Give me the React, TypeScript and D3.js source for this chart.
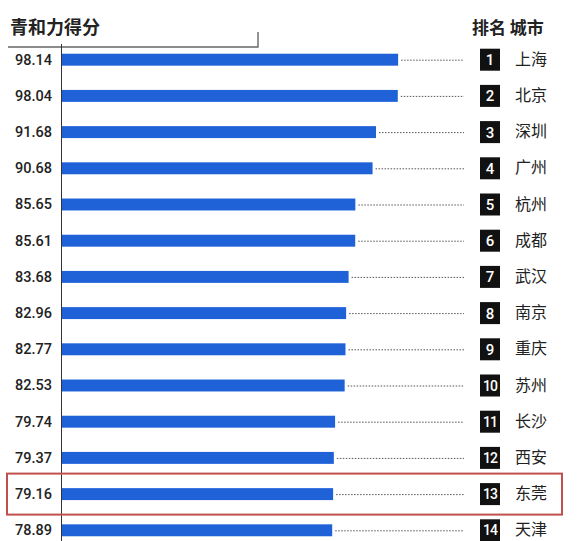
import * as d3 from "d3";
import { useEffect, useRef } from "react";

const cities = ["上海", "北京", "深圳", "广州", "杭州", "成都", "武汉", "南京", "重庆", "苏州", "长沙", "西安", "东莞", "天津"];
const scores = [98.14, 98.04, 91.68, 90.68, 85.65, 85.61, 83.68, 82.96, 82.77, 82.53, 79.74, 79.37, 79.16, 78.89];
const ranks = cities.map((_, i) => i + 1);
const highlightCity = "东莞";
const titleLeft = "青和力得分";
const titleRight = "排名 城市";

const W = 588;
const H = 541;

export default function App() {
  const ref = useRef<SVGSVGElement | null>(null);

  useEffect(() => {
    const el = ref.current;
    if (!el) return;
    const svg = d3.select(el);
    svg.selectAll("*").remove();

    const cjk = "'Noto Sans CJK SC', 'Noto Sans', sans-serif";
    const num = "Roboto, 'DejaVu Sans', sans-serif";
    const barColor = "#1f62d8";

    const data = cities.map((c, i) => ({ city: c, score: scores[i], rank: ranks[i] }));

    const step = 36.2;
    const y = d3
      .scaleBand<string>()
      .domain(cities)
      .range([41.6, 41.6 + step * cities.length])
      .paddingInner(0.67)
      .paddingOuter(0.335);

    const x = d3.scaleLinear().domain([0, 100]).range([62, 62 + 342.5]);

    svg.append("rect").attr("width", W).attr("height", H).attr("fill", "#ffffff");

    // title + bracket
    svg
      .append("text")
      .attr("x", 10)
      .attr("y", 34)
      .attr("font-family", cjk)
      .attr("font-weight", 700)
      .attr("font-size", 18)
      .attr("fill", "#222")
      .text(titleLeft);

    svg
      .append("path")
      .attr("d", "M8,47 H258 V32")
      .attr("fill", "none")
      .attr("stroke", "#666")
      .attr("stroke-width", 1.4);

    svg
      .append("text")
      .attr("x", 472)
      .attr("y", 34)
      .attr("font-family", cjk)
      .attr("font-weight", 700)
      .attr("font-size", 17)
      .attr("fill", "#222")
      .text(titleRight);

    // axis line
    svg
      .append("line")
      .attr("x1", 61.5)
      .attr("x2", 61.5)
      .attr("y1", 44)
      .attr("y2", H)
      .attr("stroke", "#333")
      .attr("stroke-width", 1);

    const rows = svg
      .append("g")
      .selectAll("g.row")
      .data(data)
      .enter()
      .append("g")
      .attr("class", "row");

    const cy = (d: { city: string }) => (y(d.city) ?? 0) + y.bandwidth() / 2;

    rows
      .append("rect")
      .attr("x", x(0))
      .attr("y", (d) => y(d.city) ?? 0)
      .attr("width", (d) => x(d.score) - x(0))
      .attr("height", y.bandwidth())
      .attr("fill", barColor);

    rows
      .append("line")
      .attr("x1", (d) => x(d.score) + 3)
      .attr("x2", 464)
      .attr("y1", (d) => cy(d) + 0.5)
      .attr("y2", (d) => cy(d) + 0.5)
      .attr("stroke", "#555")
      .attr("stroke-width", 1)
      .attr("stroke-dasharray", "1.5,1.5");

    rows
      .append("text")
      .attr("x", 52)
      .attr("y", (d) => cy(d))
      .attr("dy", "0.34em")
      .attr("text-anchor", "end")
      .attr("font-family", num)
      .attr("font-weight", 500)
      .attr("font-size", 14.5)
      .attr("fill", "#222")
      .text((d) => d.score.toFixed(2));

    rows
      .append("rect")
      .attr("x", 480)
      .attr("y", (d) => cy(d) - 11)
      .attr("width", 20)
      .attr("height", 22)
      .attr("fill", "#111");

    rows
      .append("text")
      .attr("x", 490)
      .attr("y", (d) => cy(d))
      .attr("dy", "0.36em")
      .attr("text-anchor", "middle")
      .attr("font-family", num)
      .attr("font-weight", 500)
      .attr("font-size", (d) => (d.rank >= 10 ? 14 : 15))
      .attr("letter-spacing", (d) => (d.rank >= 10 ? -1 : 0))
      .attr("fill", "#fff")
      .text((d) => String(d.rank));

    rows
      .append("text")
      .attr("x", 515)
      .attr("y", (d) => cy(d))
      .attr("dy", "0.32em")
      .attr("font-family", cjk)
      .attr("font-weight", 400)
      .attr("font-size", 16)
      .attr("fill", "#222")
      .text((d) => d.city);

    // highlight box
    const hy = y(highlightCity) ?? 0;
    const hc = hy + y.bandwidth() / 2;
    svg
      .append("rect")
      .attr("x", 7)
      .attr("y", hc - 20.5)
      .attr("width", 555)
      .attr("height", 41)
      .attr("fill", "none")
      .attr("stroke", "#c0504d")
      .attr("stroke-width", 2);
  }, []);

  return (
    <svg
      ref={ref}
      width={W}
      height={H}
      style={{ position: "absolute", left: 0, top: 0, display: "block" }}
    />
  );
}
